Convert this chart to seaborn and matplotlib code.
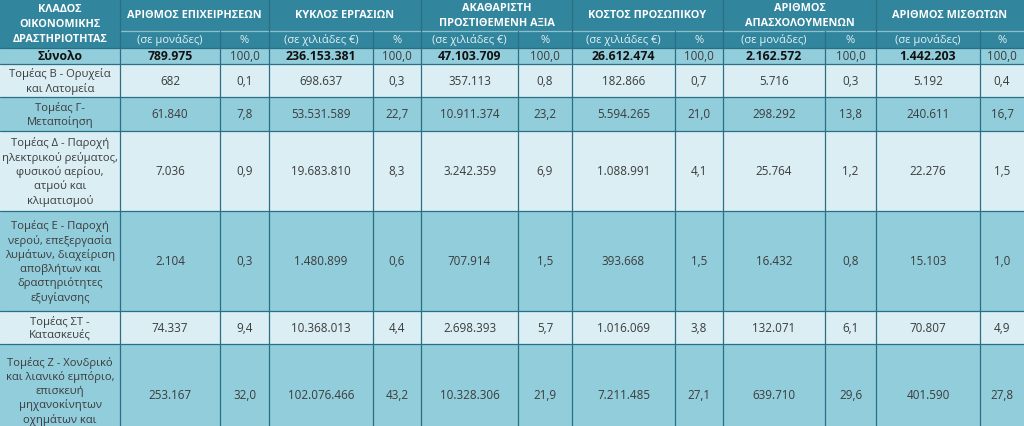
import matplotlib
matplotlib.use("Agg")
import matplotlib.pyplot as plt
from matplotlib.patches import Rectangle
import seaborn as sns

# ---------------- data ----------------
sectors = [
    "Σύνολο",
    "Τομέας Β - Ορυχεία\nκαι Λατομεία",
    "Τομέας Γ-\nΜεταποίηση",
    "Τομέας Δ - Παροχή\nηλεκτρικού ρεύματος,\nφυσικού αερίου,\nατμού και\nκλιματισμού",
    "Τομέας Ε - Παροχή\nνερού, επεξεργασία\nλυμάτων, διαχείριση\nαποβλήτων και\nδραστηριότητες\nεξυγίανσης",
    "Τομέας ΣΤ -\nΚατασκευές",
    "Τομέας Ζ - Χονδρικό\nκαι λιανικό εμπόριο,\nεπισκευή\nμηχανοκίνητων\nοχημάτων και\nμοτοσυκλετών",
]
first_header = "ΚΛΑΔΟΣ\nΟΙΚΟΝΟΜΙΚΗΣ\nΔΡΑΣΤΗΡΙΟΤΗΤΑΣ"
measures = [
    "ΑΡΙΘΜΟΣ ΕΠΙΧΕΙΡΗΣΕΩΝ",
    "ΚΥΚΛΟΣ ΕΡΓΑΣΙΩΝ",
    "ΑΚΑΘΑΡΙΣΤΗ\nΠΡΟΣΤΙΘΕΜΕΝΗ ΑΞΙΑ",
    "ΚΟΣΤΟΣ ΠΡΟΣΩΠΙΚΟΥ",
    "ΑΡΙΘΜΟΣ\nΑΠΑΣΧΟΛΟΥΜΕΝΩΝ",
    "ΑΡΙΘΜΟΣ ΜΙΣΘΩΤΩΝ",
]
units = ["(σε μονάδες)", "(σε χιλιάδες €)", "(σε χιλιάδες €)",
         "(σε χιλιάδες €)", "(σε μονάδες)", "(σε μονάδες)"]
pct_label = "%"

enterprises = [789975, 682, 61840, 7036, 2104, 74337, 253167]
enterprises_pct = [100.0, 0.1, 7.8, 0.9, 0.3, 9.4, 32.0]
turnover = [236153381, 698637, 53531589, 19683810, 1480899, 10368013, 102076466]
turnover_pct = [100.0, 0.3, 22.7, 8.3, 0.6, 4.4, 43.2]
gross_value_added = [47103709, 357113, 10911374, 3242359, 707914, 2698393, 10328306]
gross_value_added_pct = [100.0, 0.8, 23.2, 6.9, 1.5, 5.7, 21.9]
staff_cost = [26612474, 182866, 5594265, 1088991, 393668, 1016069, 7211485]
staff_cost_pct = [100.0, 0.7, 21.0, 4.1, 1.5, 3.8, 27.1]
employed = [2162572, 5716, 298292, 25764, 16432, 132071, 639710]
employed_pct = [100.0, 0.3, 13.8, 1.2, 0.8, 6.1, 29.6]
employees = [1442203, 5192, 240611, 22276, 15103, 70807, 401590]
employees_pct = [100.0, 0.4, 16.7, 1.5, 1.0, 4.9, 27.8]

series = [(enterprises, enterprises_pct), (turnover, turnover_pct),
          (gross_value_added, gross_value_added_pct), (staff_cost, staff_cost_pct),
          (employed, employed_pct), (employees, employees_pct)]

# ---------------- layout / style ----------------
W, H = 1024, 427
col_edges = [0, 120, 220, 269, 373, 421, 518, 572, 675, 723, 825, 876, 980, 1024]
row_edges = [0, 32, 49, 65, 98, 132, 212, 312, 345, 452]

HEADER = "#31859c"
MID = "#92cddc"
LIGHT = "#daeef3"
LINE = "#2a6f84"
HLINE = "#8fbfcc"
TEXT = "#3c3c3c"
row_colors = [MID, LIGHT, MID, LIGHT, MID, LIGHT, MID]

sns.set_theme(style="white")
plt.rcParams["font.family"] = ["Open Sans", "DejaVu Sans"]
FS = 8.4      # numbers
LFS = 8.1     # sector labels
HFS = 7.8     # header
LS = 1.27


def fmt_int(v):
    return f"{v:,}".replace(",", ".")


def fmt_pct(v):
    return f"{v:.1f}".replace(".", ",")


fig = plt.figure(figsize=(W / 100, H / 100), dpi=100)
ax = fig.add_axes([0, 0, 1, 1])
ax.set_xlim(0, W)
ax.set_ylim(H, 0)
ax.axis("off")


def cell(x0, x1, y0, y1, color):
    ax.add_patch(Rectangle((x0, y0), x1 - x0, y1 - y0, facecolor=color,
                           edgecolor="none", zorder=1))


def txt(x, y, s, **kw):
    d = dict(ha="center", va="center", fontsize=FS, color=TEXT,
             linespacing=LS, zorder=5)
    d.update(kw)
    ax.text(x, y, s, **d)


# header background
cell(0, W, row_edges[0], row_edges[2], HEADER)
txt(col_edges[1] / 2, (row_edges[0] + row_edges[2]) / 2, first_header,
    color="white", fontweight="bold", fontsize=HFS, linespacing=1.5)
for i, m in enumerate(measures):
    x0, xm, x1 = col_edges[1 + 2 * i], col_edges[2 + 2 * i], col_edges[3 + 2 * i]
    txt((x0 + x1) / 2, (row_edges[0] + row_edges[1]) / 2, m, color="white",
        fontweight="bold", fontsize=HFS, linespacing=1.5)
    ysub = (row_edges[1] + row_edges[2]) / 2
    txt((x0 + xm) / 2, ysub, units[i], color="#e3f1f5", fontsize=8.0)
    txt((xm + x1) / 2, ysub, pct_label, color="#e3f1f5", fontsize=8.0)

# body
for r, name in enumerate(sectors):
    y0, y1 = row_edges[2 + r], row_edges[3 + r]
    cell(0, W, y0, y1, row_colors[r])
    yc = (y0 + y1) / 2
    bold = r == 0
    tcol = "#111111" if bold else TEXT
    txt(col_edges[1] / 2, yc, name, fontweight="bold" if bold else "normal",
        color=tcol, fontsize=8.8 if bold else LFS)
    ynum = min(yc, 396)
    for i, (vals, pcts) in enumerate(series):
        x0, xm, x1 = col_edges[1 + 2 * i], col_edges[2 + 2 * i], col_edges[3 + 2 * i]
        txt((x0 + xm) / 2, ynum, fmt_int(vals[r]),
            fontweight="bold" if bold else "normal", color=tcol,
            fontsize=8.8 if bold else FS)
        txt((xm + x1) / 2, ynum, fmt_pct(pcts[r]), color=TEXT)

# grid lines
lw = 0.9
ax.plot([col_edges[1], W], [row_edges[1]] * 2, color=HLINE, lw=lw, zorder=3)
ax.plot([0, W], [row_edges[2]] * 2, color=LINE, lw=lw, zorder=3)
for k in range(1, len(col_edges) - 1):
    x = col_edges[k]
    if k % 2 == 1:
        ax.plot([x, x], [row_edges[0], H], color=LINE, lw=lw, zorder=3)
    else:
        ax.plot([x, x], [row_edges[1], H], color=LINE, lw=lw, zorder=3)
for y in row_edges[3:-1]:
    ax.plot([0, W], [y, y], color=LINE, lw=lw, zorder=3)

fig.savefig("out.png", dpi=100)
